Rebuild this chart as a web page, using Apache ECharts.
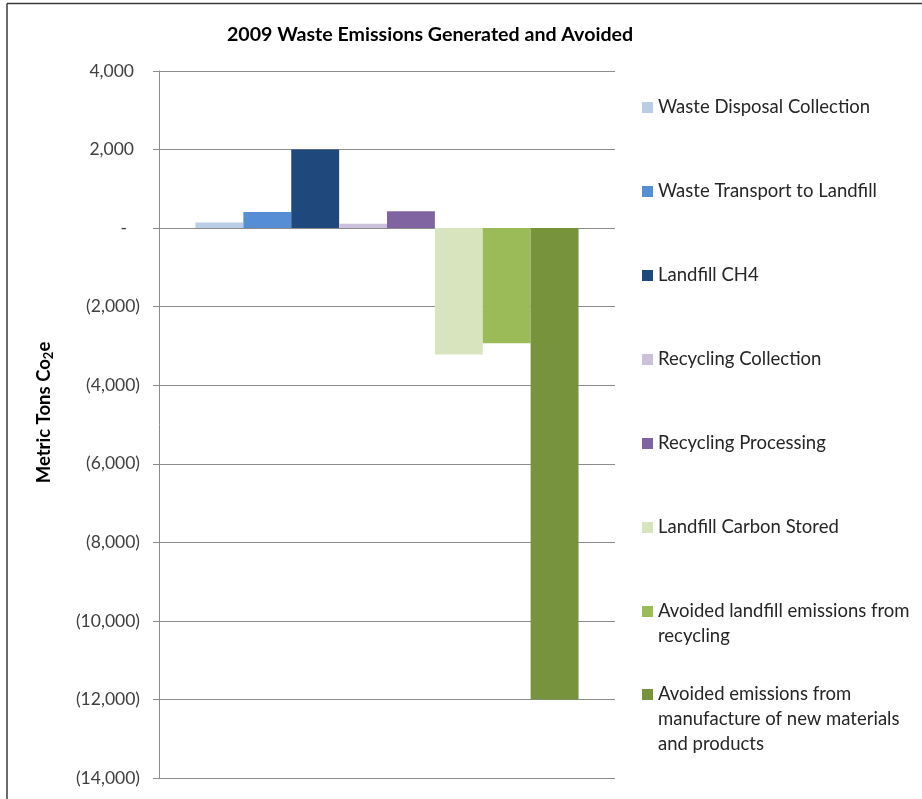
<!DOCTYPE html>
<html>
<head>
<meta charset="utf-8">
<title>2009 Waste Emissions Generated and Avoided</title>
<script src="https://cdn.jsdelivr.net/npm/echarts@6/dist/echarts.min.js"></script>
<style>
  html, body { margin: 0; padding: 0; background: #ffffff; }
  #chart { width: 922px; height: 799px; }
</style>
</head>
<body>
<div id="chart"></div>
<script>
// Emission sources (metric tons CO2e, 2009); positive = generated, negative = avoided
const seriesNames = [
  'Waste Disposal Collection',
  'Waste Transport to Landfill',
  'Landfill CH4',
  'Recycling Collection',
  'Recycling Processing',
  'Landfill Carbon Stored',
  'Avoided landfill emissions from recycling',
  'Avoided emissions from manufacture of new materials and products'
];
const seriesValues = [140, 410, 2000, 110, 430, -3220, -2930, -12000];
const seriesColors = ['#b9cde5', '#558ed5', '#1f497d', '#ccc1da', '#8064a2', '#d7e4bd', '#9bbb59', '#77933c'];

// How each legend label breaks across lines
const legendLines = [
  ['Waste Disposal Collection'],
  ['Waste Transport to Landfill'],
  ['Landfill CH4'],
  ['Recycling Collection'],
  ['Recycling Processing'],
  ['Landfill Carbon Stored'],
  ['Avoided landfill emissions from', 'recycling'],
  ['Avoided emissions from', 'manufacture of new materials', 'and products']
];
const categories = [''];

const yMin = -14000, yMax = 4000, yStep = 2000;

const FONT = 'Lato, "Open Sans", sans-serif';
const LINE_H = 25;
const legendCenters = [107, 191, 275, 359, 443, 527, 611, 694];

function fmtThousands(v) {
  return String(Math.round(v)).replace(/\B(?=(\d{3})+(?!\d))/g, ',');
}
// Accounting style: zero as a dash, negatives in parentheses,
// positives padded so digits line up with the parenthesised ones
function tickLabel(v) {
  if (v === 0) return '{z|-}';
  if (v < 0) return '(' + fmtThousands(-v) + ')';
  return '{p|' + fmtThousands(v) + '}';
}

const chart = echarts.init(document.getElementById('chart'), null, { renderer: 'canvas' });

// One legend block per entry so that every entry starts on an even rhythm;
// leading blank lines keep the swatch level with the first line of wrapped labels.
const legends = seriesNames.map((name, i) => {
  const n = legendLines[i].length;
  const lines = new Array(n - 1).fill('').concat(legendLines[i]);
  const halfHeight = (LINE_H * lines.length) / 2;
  return {
    data: [name],
    orient: 'vertical',
    left: 642,
    top: Math.round(legendCenters[i] - halfHeight),
    padding: 0,
    itemWidth: 11,
    itemHeight: 11,
    icon: 'rect',
    formatter: () => lines.join('\n'),
    textStyle: {
      fontFamily: FONT,
      fontSize: 18.5,
      color: '#262626',
      lineHeight: LINE_H
    }
  };
});

const labelFont = { fontFamily: FONT, fontSize: 17.5, color: '#404040' };

const option = {
  backgroundColor: '#ffffff',
  animation: false,
  title: {
    text: '2009 Waste Emissions Generated and Avoided',
    left: 425,
    textAlign: 'center',
    top: 20,
    textStyle: { fontFamily: FONT, fontSize: 19.6, fontWeight: 'bold', color: '#000000' }
  },
  legend: legends,
  grid: { left: 159, right: 307, top: 71, bottom: 21, containLabel: false },
  xAxis: {
    type: 'category',
    data: categories,
    axisLine: { show: false },
    axisTick: { show: false },
    axisLabel: { show: false },
    splitLine: { show: false }
  },
  yAxis: {
    type: 'value',
    min: yMin,
    max: yMax,
    interval: yStep,
    name: 'Metric Tons Co{sub|2}e',
    nameLocation: 'middle',
    nameGap: 104,
    nameTextStyle: {
      fontFamily: FONT,
      fontSize: 18.5,
      fontWeight: 'bold',
      color: '#000000',
      padding: [0, 0, 0, 24],
      rich: {
        sub: { fontFamily: FONT, fontSize: 13, fontWeight: 'bold', color: '#000000', verticalAlign: 'bottom', padding: [9, 0, 0, 0] }
      }
    },
    axisLine: { show: true, lineStyle: { color: '#8c8c8c', width: 1 } },
    axisTick: { show: true, inside: false, length: 6, lineStyle: { color: '#8c8c8c' } },
    axisLabel: Object.assign({
      margin: 19,
      formatter: tickLabel,
      rich: {
        p: Object.assign({ padding: [0, 6, 0, 0] }, labelFont),
        z: Object.assign({ padding: [0, 13, 0, 0] }, labelFont)
      }
    }, labelFont),
    splitLine: { show: true, lineStyle: { color: '#8c8c8c', width: 1 } }
  },
  graphic: [
    { type: 'line', shape: { x1: 7, y1: 3.5, x2: 922, y2: 3.5 }, style: { stroke: '#3a3a3a', lineWidth: 1.5 }, silent: true },
    { type: 'line', shape: { x1: 7, y1: 3.5, x2: 7, y2: 799 }, style: { stroke: '#3a3a3a', lineWidth: 1.5 }, silent: true }
  ],
  series: seriesNames.map((name, i) => ({
    name: name,
    type: 'bar',
    data: [seriesValues[i]],
    barGap: '0%',
    barCategoryGap: '16%',
    itemStyle: { color: seriesColors[i] }
  }))
};

chart.setOption(option);
</script>
</body>
</html>
